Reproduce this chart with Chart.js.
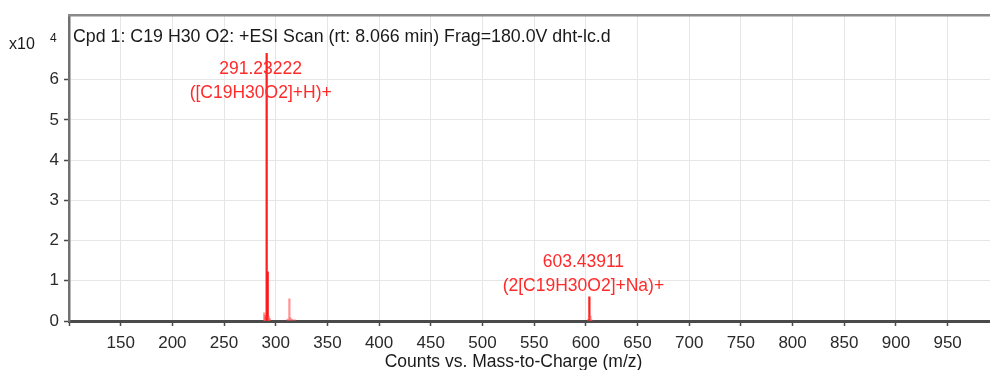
<!DOCTYPE html>
<html>
<head>
<meta charset="utf-8">
<script src="https://cdn.jsdelivr.net/npm/chart.js@4/dist/chart.umd.min.js"></script>
<style>
  html, body { margin: 0; padding: 0; background: #fff; }
  #wrap { width: 990px; height: 370px; position: relative; }
</style>
</head>
<body>
<div id="wrap"><canvas id="spec"></canvas></div>
<script>
// ─── Data (intensity in counts x10^4) ─────────────────────
const peakMz = [288.9, 289.6, 290.3, 291.23222, 292.236, 293.2, 294.2,
                311.4, 313.22, 314.2, 316.1, 318.4, 602.4, 603.43911, 604.44, 605.4];
const peakIntensity = [0.2, 0.14, 0.1, 6.65, 1.22, 0.12, 0.06,
                       0.05, 0.55, 0.08, 0.04, 0.03, 0.04, 0.6, 0.12, 0.03];
const labelMz = [291.23222, 603.43911];
const labelText = [['291.23222', '([C19H30O2]+H)+'], ['603.43911', '(2[C19H30O2]+Na)+']];
const xTickValues = [150, 200, 250, 300, 350, 400, 450, 500, 550, 600, 650, 700, 750, 800, 850, 900, 950];
const yTickValues = [0, 1, 2, 3, 4, 5, 6];
const titleText = 'Cpd 1: C19 H30 O2: +ESI Scan (rt: 8.066 min) Frag=180.0V dht-lc.d';
const xTitle = 'Counts vs. Mass-to-Charge (m/z)';

const FONT = '"Liberation Sans", Arial, Helvetica, sans-serif';
const AXIS = '#4a4a4a';

// frame top, titles, exponent and peak labels
const overlay = {
  id: 'overlay',
  afterDatasetsDraw(chart) {
    const { ctx, chartArea, scales } = chart;
    ctx.save();
    ctx.strokeStyle = '#8a8a8a';
    ctx.lineWidth = 2.5;
    ctx.beginPath();
    ctx.moveTo(chartArea.left - 1, chartArea.top);
    ctx.lineTo(chartArea.right, chartArea.top);
    ctx.stroke();

    ctx.fillStyle = '#1a1a1a';
    ctx.font = '17.8px ' + FONT;
    ctx.textBaseline = 'middle';
    ctx.textAlign = 'left';
    ctx.fillText(titleText, chartArea.left + 4, chartArea.top + 22);

    // x axis title
    ctx.textAlign = 'center';
    ctx.font = '17.5px ' + FONT;
    ctx.fillText(xTitle, (chartArea.left + chartArea.right) / 2 - 16, 362);

    // exponent label
    ctx.textAlign = 'left';
    ctx.font = '16px ' + FONT;
    ctx.fillText('x10', 9, 45);
    ctx.font = '12px ' + FONT;
    ctx.fillText('4', 50, 39);

    // annotations
    ctx.fillStyle = '#ff2a2a';
    ctx.font = '17.5px ' + FONT;
    ctx.textAlign = 'center';
    labelMz.forEach((mz, i) => {
      const idx = peakMz.indexOf(mz);
      const px = scales.x.getPixelForValue(mz) - 6;
      const py = Math.max(scales.y.getPixelForValue(peakIntensity[idx]) - 11, chartArea.top + 78);
      ctx.fillText(labelText[i][1], px, py);
      ctx.fillText(labelText[i][0], px, py - 24);
    });
    ctx.restore();
  }
};

new Chart(document.getElementById('spec'), {
  type: 'bar',
  data: {
    datasets: [{
      data: peakMz.map((m, i) => ({ x: m, y: peakIntensity[i] })),
      backgroundColor: peakIntensity.map(v => v > 0.58 ? 'rgba(255,20,20,0.95)' : 'rgba(255,80,80,0.6)'),
      barThickness: 1.6,
      borderWidth: 0,
    }],
  },
  options: {
    responsive: true,
    maintainAspectRatio: false,
    animation: false,
    layout: { padding: { top: 15, right: 0, left: 0, bottom: 0 } },
    plugins: { legend: { display: false }, tooltip: { enabled: false } },
    scales: {
      x: {
        type: 'linear',
        min: 100,
        max: 991,
        offset: false,
        afterBuildTicks: (s) => { s.ticks = [100, ...xTickValues].map(v => ({ value: v })); },
        afterFit: (s) => { s.height = 49; },
        grid: { offset: false, color: '#e6e6e6', lineWidth: 1, drawTicks: true, tickLength: 5, tickColor: AXIS, tickWidth: 1.5 },
        border: { color: AXIS, width: 3 },
        ticks: {
          color: '#2a2a2a',
          font: { size: 17, family: FONT },
          padding: 7,
          maxRotation: 0,
          autoSkip: false,
          callback: (v) => v === 100 ? '' : v,
        },
      },
      y: {
        min: 0,
        max: 7.6,
        afterBuildTicks: (s) => { s.ticks = yTickValues.map(v => ({ value: v })); },
        afterFit: (s) => { s.width = 69; },
        grid: { color: '#e6e6e6', lineWidth: 1, drawTicks: true, tickLength: 5, tickColor: AXIS, tickWidth: 1.5 },
        border: { color: '#707070', width: 2.5 },
        ticks: { color: '#2a2a2a', font: { size: 17, family: FONT }, padding: 5 },
      },
    },
  },
  plugins: [overlay],
});
</script>
</body>
</html>
